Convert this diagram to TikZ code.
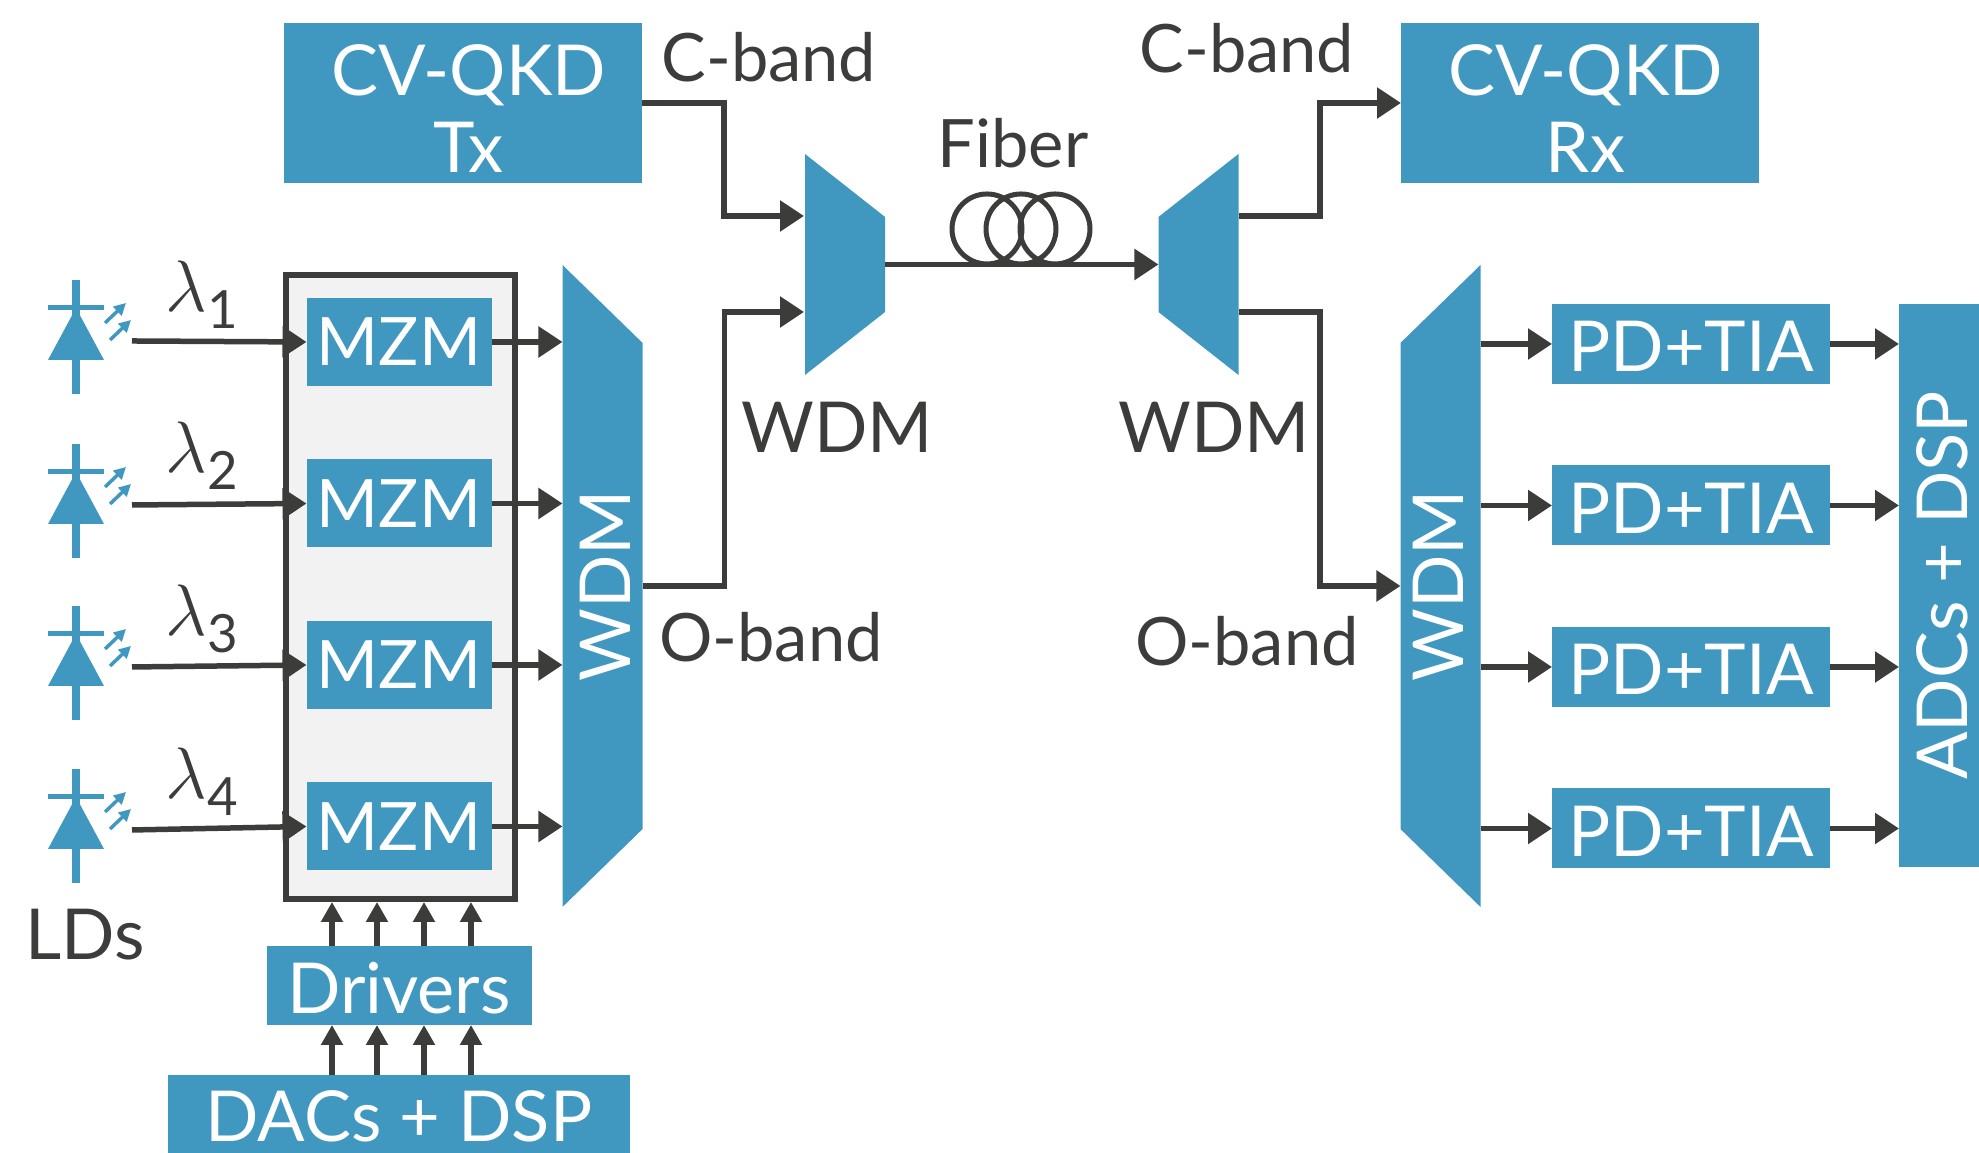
\documentclass[tikz,border=0pt]{standalone}
\usepackage{fontspec}
\setmainfont{Lato}
\usetikzlibrary{arrows.meta, positioning, shapes.geometric}

\definecolor{wdmblue}{RGB}{64,152,192}
\definecolor{linegray}{RGB}{60,60,59}
\newcommand{\lamlabel}[1]{\fontsize{21}{21}\selectfont$\lambda$\raisebox{-0.45ex}{\fontsize{15}{15}\selectfont #1}}

\begin{document}
\begin{tikzpicture}[
        block/.style={rectangle, fill=wdmblue, text=white, inner sep=0pt, outer sep=0pt, text centered, align=center, font=\fontsize{20}{21.8}\selectfont},
        oneline/.style={text height=0.56cm, text depth=0pt},
        wdm/.style={trapezium, trapezium stretches=true, fill=wdmblue, inner sep=0.05cm, outer sep=0pt, minimum height=0.8cm},
        wdmtext/.style={text=white, rotate=90, inner sep=0pt, font=\fontsize{20}{21.8}\selectfont},
        label/.style={text=linegray, inner sep=0pt, font=\fontsize{19}{21.8}\selectfont},
        biglabel/.style={text=linegray, inner sep=0pt, font=\fontsize{20}{21.8}\selectfont},
        signal/.style={-{Triangle[length=0.24cm, width=0.3cm]}, draw=linegray, line width=0.055cm},
        drive/.style={-{Triangle[length=0.2cm, width=0.21cm]}, draw=linegray, line width=0.055cm},
        modbox/.style={rectangle, draw=linegray, fill=black!5, line width=0.06cm, minimum width=2.29cm, minimum height=6.24cm},
        coil/.style={circle, draw=linegray, line width=0.05cm, minimum size=0.7cm, inner sep=0pt},
        laser/.pic={
            \draw[wdmblue, line width=0.07cm] (0,0) -- (0,-1.14);
            \draw[wdmblue, line width=0.05cm] (-0.28,-0.28) -- (0.28,-0.28);
            \fill[wdmblue] (0,-0.28) -- (0.28,-0.8) -- (-0.28,-0.8) -- cycle;
            \draw[wdmblue, line width=0.035cm, -{Triangle[length=0.12cm, width=0.12cm]}] (0.29,-0.43) -- (0.50,-0.23);
            \draw[wdmblue, line width=0.035cm, -{Triangle[length=0.12cm, width=0.12cm]}] (0.34,-0.60) -- (0.55,-0.40);
            \coordinate (-out) at (0.56,-0.61);
        },
    ]
        \useasboundingbox (0,0) rectangle (19.79,11.53);

        \node[modbox] (mod) at (4.005,5.66) {};

        \node[block, minimum width=3.58cm, minimum height=1.6cm] (tx) at (4.63,10.5) {\hspace*{0.11cm}\rule{0pt}{0.62cm}CV-QKD\\\hspace*{0.11cm}Tx};
        \node[block, minimum width=3.58cm, minimum height=1.6cm] (rx) at (15.8,10.5) {\hspace*{0.11cm}\rule{0pt}{0.62cm}CV-QKD\\\hspace*{0.11cm}Rx};

        \node[block, font=\fontsize{19}{21.8}\selectfont, minimum width=1.85cm, minimum height=0.88cm] (mzm1) at (3.99,8.11) {MZM};
        \node[block, font=\fontsize{19}{21.8}\selectfont, minimum width=1.85cm, minimum height=0.88cm] (mzm2) at (3.99,6.495) {MZM};
        \node[block, font=\fontsize{19}{21.8}\selectfont, minimum width=1.85cm, minimum height=0.88cm] (mzm3) at (3.99,4.88) {MZM};
        \node[block, font=\fontsize{19}{21.8}\selectfont, minimum width=1.85cm, minimum height=0.88cm] (mzm4) at (3.99,3.265) {MZM};

        \node[block, oneline, minimum width=2.78cm, minimum height=0.8cm] (pd1) at (16.91,8.09) {PD+TIA};
        \node[block, oneline, minimum width=2.78cm, minimum height=0.8cm] (pd2) at (16.91,6.475) {PD+TIA};
        \node[block, oneline, minimum width=2.78cm, minimum height=0.8cm] (pd3) at (16.91,4.86) {PD+TIA};
        \node[block, oneline, minimum width=2.78cm, minimum height=0.8cm] (pd4) at (16.91,3.245) {PD+TIA};

        \node[block, oneline, rotate=90, minimum width=5.63cm, minimum height=0.8cm] (adc) at (19.39,5.675) {ADCs + DSP};
        \node[block, oneline, minimum width=2.65cm, minimum height=0.79cm] (drivers) at (3.99,1.675) {Drivers};
        \node[block, oneline, minimum width=4.62cm, minimum height=0.78cm] (dac) at (3.99,0.39) {DACs + DSP};

        % multiplexers
        \node[wdm, rotate=-90, trapezium angle=80.9, minimum width=6.42cm] (wdmtx) at (6.025,5.67) {};
        \node[wdm, rotate=90, trapezium angle=80.9, minimum width=6.42cm] (wdmrx) at (14.405,5.67) {};
        \node[wdm, rotate=-90, trapezium angle=56.5, minimum width=2.21cm] (wdmin) at (8.45,8.885) {};
        \node[wdm, rotate=90, trapezium angle=56.5, minimum width=2.21cm] (wdmout) at (11.985,8.885) {};
        \node[wdmtext] (wdmtxtext) at (6.05,5.67) {WDM};
        \node[wdmtext] (wdmrxtext) at (14.38,5.67) {WDM};

        \coordinate (cin) at (8.04,9.37);
        \coordinate (oin) at (8.04,8.41);
        \coordinate (cout) at (12.39,9.37);
        \coordinate (oout) at (12.39,8.41);

        \pic (ld1) at (0.76,8.73) {laser};
        \pic (ld2) at (0.76,7.09) {laser};
        \pic (ld3) at (0.76,5.47) {laser};
        \pic (ld4) at (0.76,3.84) {laser};

        \draw[signal] (ld1-out) -- (mzm1.west);
        \draw[signal] (ld2-out) -- (mzm2.west);
        \draw[signal] (ld3-out) -- (mzm3.west);
        \draw[signal] (ld4-out) -- (mzm4.west);

        \draw[signal] (mzm1.east) -- (mzm1.east -| wdmtx.south);
        \draw[signal] (mzm2.east) -- (mzm2.east -| wdmtx.south);
        \draw[signal] (mzm3.east) -- (mzm3.east -| wdmtx.south);
        \draw[signal] (mzm4.east) -- (mzm4.east -| wdmtx.south);

        \draw[signal] (pd1.west -| wdmrx.south) -- (pd1.west);
        \draw[signal] (pd2.west -| wdmrx.south) -- (pd2.west);
        \draw[signal] (pd3.west -| wdmrx.south) -- (pd3.west);
        \draw[signal] (pd4.west -| wdmrx.south) -- (pd4.west);

        \draw[signal] (pd1.east) -- (pd1.east -| adc.north);
        \draw[signal] (pd2.east) -- (pd2.east -| adc.north);
        \draw[signal] (pd3.east) -- (pd3.east -| adc.north);
        \draw[signal] (pd4.east) -- (pd4.east -| adc.north);

        \draw[signal] (tx.east) -- ++(0.82,0) |- (cin);
        \draw[signal] (wdmtx.north) -- ++(0.82,0) |- (oin);
        \draw[signal] (cout) -- ++(0.81,0) |- (rx.west);
        \draw[signal] (oout) -- ++(0.81,0) |- (wdmrx.north);
        \draw[signal] (wdmin.north) -- (wdmout.north);

        \node[coil] (coil1) at (9.87,9.24) {};
        \node[coil] (coil2) at (10.21,9.24) {};
        \node[coil] (coil3) at (10.55,9.24) {};

        \draw[drive] ([xshift=-0.67cm]drivers.north) -- ([xshift=-0.685cm]mod.south);
        \draw[drive] ([xshift=-0.22cm]drivers.north) -- ([xshift=-0.235cm]mod.south);
        \draw[drive] ([xshift=0.25cm]drivers.north) -- ([xshift=0.235cm]mod.south);
        \draw[drive] ([xshift=0.72cm]drivers.north) -- ([xshift=0.705cm]mod.south);

        \draw[drive] ([xshift=-0.67cm]dac.north) -- ([xshift=-0.67cm]drivers.south);
        \draw[drive] ([xshift=-0.22cm]dac.north) -- ([xshift=-0.22cm]drivers.south);
        \draw[drive] ([xshift=0.25cm]dac.north) -- ([xshift=0.25cm]drivers.south);
        \draw[drive] ([xshift=0.72cm]dac.north) -- ([xshift=0.72cm]drivers.south);

        \node[label] (cbandtx) at (7.69,10.96) {C-band};
        \node[label] (cbandrx) at (12.47,11.05) {C-band};
        \node[label] (obandtx) at (7.71,5.16) {O-band};
        \node[label] (obandrx) at (12.47,5.12) {O-band};
        \node[biglabel] (wdminlabel) at (8.37,7.26) {WDM};
        \node[biglabel] (wdmoutlabel) at (12.14,7.26) {WDM};
        \node[label] (fiber) at (10.13,10.1) {Fiber};
        \node[biglabel] (lds) at (0.85,2.18) {LDs};
        \node[label] (lam1) at (2.02,8.58) {\lamlabel{1}};
        \node[label] (lam2) at (2.02,6.97) {\lamlabel{2}};
        \node[label] (lam3) at (2.02,5.34) {\lamlabel{3}};
        \node[label] (lam4) at (2.02,3.71) {\lamlabel{4}};
    \end{tikzpicture}
\end{document}
